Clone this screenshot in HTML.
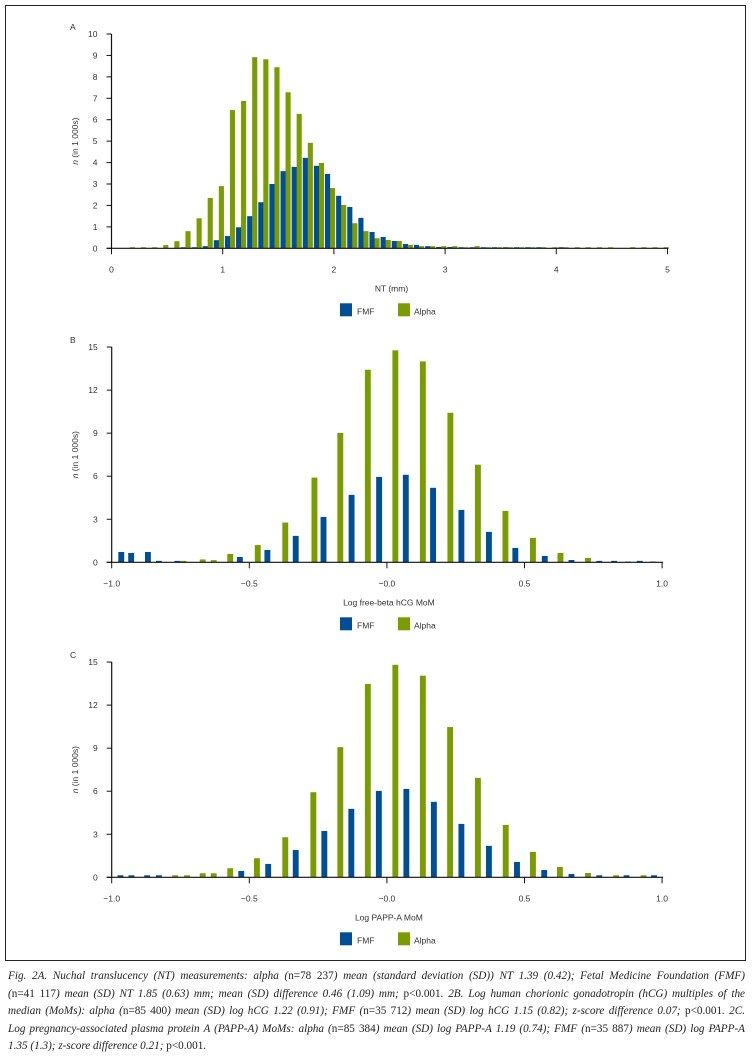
<!DOCTYPE html>
<html><head><meta charset="utf-8"><style>
html,body{margin:0;padding:0;background:#fff;}
body{width:753px;height:1063px;position:relative;overflow:hidden;font-family:"Liberation Sans",sans-serif;}
#frame{position:absolute;left:5px;top:5px;width:741px;height:956px;border:1.3px solid #222;box-sizing:border-box;}
svg{position:absolute;left:0;top:0;}
#caption{position:absolute;left:8px;top:968px;width:737px;font-family:"Liberation Serif",serif;font-style:italic;font-size:11.2px;line-height:17.5px;color:#222;}
#caption div{text-align:justify;text-align-last:justify;white-space:nowrap;}
#caption div.last{text-align-last:left;}
#caption .u{font-style:normal;}
</style></head><body>
<div id="frame"></div>
<svg id="chart" width="753" height="1063"></svg>
<div id="caption">
<div>Fig. 2A. Nuchal translucency (NT) measurements: alpha (<span class="u">n=78 237</span>) mean (standard deviation (SD)) NT 1.39 (0.42); Fetal Medicine Foundation (FMF)</div>
<div>(<span class="u">n=41 117</span>) mean (SD) NT 1.85 (0.63) mm; mean (SD) difference 0.46 (1.09) mm; <span class="u">p&lt;0.001</span>. 2B. Log human chorionic gonadotropin (hCG) multiples of the</div>
<div>median (MoMs): alpha (<span class="u">n=85 400</span>) mean (SD) log hCG 1.22 (0.91); FMF (<span class="u">n=35 712</span>) mean (SD) log hCG 1.15 (0.82); z-score difference 0.07; <span class="u">p&lt;0.001</span>. 2C.</div>
<div>Log pregnancy-associated plasma protein A (PAPP-A) MoMs: alpha (<span class="u">n=85 384</span>) mean (SD) log PAPP-A 1.19 (0.74); FMF (<span class="u">n=35 887</span>) mean (SD) log PAPP-A</div>
<div class="last">1.35 (1.3); z-score difference 0.21; <span class="u">p&lt;0.001</span>.</div>
</div>
<script>
// ---- Chart A data (NT, slots of 0.1 mm) ----
const aGreen = [0,.05,.05,.05,.15,.33,.8,1.4,2.35,2.9,6.45,6.88,8.92,8.82,8.45,7.28,6.27,4.92,3.98,2.81,2.02,1.17,.8,.47,.39,.34,.16,.1,.1,.1,.1,.05,.1,.05,.05,.05,.05,.05,.05,.05,.05,.05,.05,.05,.05,0,.05,.05,.05,.05];
const aBlue = [0,0,0,0,0,0,.05,.05,.1,.38,.57,.98,1.5,2.15,3.0,3.6,3.8,4.22,3.85,3.47,2.45,1.93,1.42,.76,.53,.34,.2,.16,.1,.06,.06,.05,.05,.05,.05,.05,.05,.05,.05,0,.05,0,0,0,0,0,0,0,0,0];
const aYTicks = [0,1,2,3,4,5,6,7,8,9,10];
const aXTicks = [0,1,2,3,4,5];
// ---- Chart B data (free-beta hCG) ----
const bGreenX = [-0.75,-0.68,-0.64,-0.58,-0.48,-0.38,-0.274,-0.18,-0.08,0.02,0.12,0.22,0.32,0.42,0.52,0.62,0.72];
const bGreenV = [0.1,0.2,0.15,0.58,1.2,2.77,5.9,9.02,13.42,14.77,14.0,10.42,6.8,3.58,1.7,0.65,0.3];
const bBlueX = [-0.976,-0.94,-0.879,-0.839,-0.772,-0.545,-0.445,-0.342,-0.241,-0.139,-0.039,0.058,0.157,0.26,0.36,0.456,0.563,0.66,0.761,0.815,0.865,0.908,0.957];
const bBlueV = [0.72,0.65,0.72,0.1,0.1,0.37,0.86,1.84,3.16,4.7,5.95,6.1,5.19,3.65,2.12,1.0,0.44,0.16,0.1,0.1,0.05,0.1,0.05];
// ---- Chart C data (PAPP-A) ----
const cGreenX = [-0.78,-0.737,-0.68,-0.64,-0.58,-0.483,-0.38,-0.278,-0.18,-0.08,0.02,0.12,0.219,0.32,0.421,0.52,0.618,0.72,0.822,0.922];
const cGreenV = [0.14,0.14,0.28,0.28,0.63,1.33,2.79,5.93,9.07,13.47,14.81,14.05,10.47,6.93,3.65,1.77,0.72,0.3,0.14,0.14];
const cBlueX = [-0.979,-0.939,-0.882,-0.839,-0.54,-0.442,-0.342,-0.238,-0.14,-0.04,0.06,0.16,0.26,0.36,0.462,0.561,0.66,0.761,0.86,0.96];
const cBlueV = [0.14,0.14,0.14,0.14,0.44,0.93,1.9,3.23,4.77,6.02,6.16,5.26,3.72,2.19,1.07,0.51,0.23,0.14,0.14,0.14];
const logYTicks = [0,3,6,9,12,15];
const logXTicks = [-1.0,-0.5,0.0,0.5,1.0];
const logXLabels = ["\u22121.0","\u22120.5","\u22120.0","0.5","1.0"];

const BLUE = "#004f95", GREEN = "#7a9c00", TXT = "#333";
const NS = "http://www.w3.org/2000/svg";
const svg = document.getElementById('chart');
function mk(tag, attrs, parent){
  const e = document.createElementNS(NS, tag);
  for (const k in attrs) e.setAttribute(k, attrs[k]);
  (parent||svg).appendChild(e);
  return e;
}
function txt(x,y,s,anchor,size,parent,italic){
  const t = mk('text',{x:x,y:y,'text-anchor':anchor||'middle','font-size':size||9,fill:TXT,'font-family':'Liberation Sans, sans-serif'},parent);
  if (italic) t.setAttribute('font-style','italic');
  t.textContent = s;
  return t;
}
function axes(g, p){
  const ax = mk('line',{x1:p.x0,y1:p.y0,x2:p.x0,y2:p.yTop,stroke:'#111','stroke-width':1.2},g);
  
  
  const bx = mk('line',{x1:p.x0-5,y1:p.y0,x2:p.x1+1,y2:p.y0,stroke:'#111','stroke-width':1.2},g);
  
  
  p.yTicks.forEach(v=>{
    const y = p.ys(v);
    mk('line',{x1:p.x0-5,y1:y,x2:p.x0,y2:y,stroke:'#111','stroke-width':1},g);
    const t = txt(p.x0-14,y+3,String(v),'end',8.5,g);
    
    
  });
  p.xTicks.forEach((v,i)=>{
    const x = p.xs(v);
    mk('line',{x1:x,y1:p.y0,x2:x,y2:p.y0+6,stroke:'#111','stroke-width':1},g);
    const t = txt(x,p.y0+24,p.xLabels[i],'middle',8.5,g);
    
    
  });
  const xt = txt((p.x0+p.x1)/2+2,p.y0+43,p.xTitle,'middle',8.5,g);
  
  
  const cy = (p.y0+p.yTop)/2;
  const yt = mk('text',{x:0,y:0,'text-anchor':'middle','font-size':8.5,fill:TXT,'font-family':'Liberation Sans, sans-serif',transform:`translate(78,${cy}) rotate(-90)`},g);
  
  
  const it = mk('tspan',{'font-style':'italic'},yt); it.textContent='n';
  const rt = mk('tspan',{},yt); rt.textContent=' (in 1 000s)';
  const pl = txt(70,p.yTop-4,p.label,'start',8.5,g);
  
  
  // legend
  const ly = p.y0+55;
  const lg = mk('g',{},g);
  
  
  const e1 = mk('rect',{x:340,y:ly,width:12,height:13,fill:BLUE},lg);
  
  
  const t1 = txt(357,ly+11,'FMF','start',8.5,lg);
  
  
  const e2 = mk('rect',{x:398,y:ly,width:12,height:13,fill:GREEN},lg);
  
  
  const t2 = txt(414,ly+11,'Alpha','start',8.5,lg);
  
  
}
function bar(g,x,w,y0,y1,color,name){
  const r = mk('rect',{x:x,y:Math.min(y0,y1),width:w,height:Math.abs(y0-y1),fill:color},g);
  
  
}

// Chart A
(function(){
  const g = mk('g',{});  
  const xs = v=>111.5+v*111.2, ys = v=>248.3-v*21.43;
  aGreen.forEach((v,k)=>{ if(v>0) bar(g,xs(0.1*k+0.065),0.046*111.2,ys(0),ys(v),GREEN,'bar-alpha'); });
  aBlue.forEach((v,k)=>{ if(v>0) bar(g,xs(0.1*k+0.02),0.046*111.2,ys(0),ys(v),BLUE,'bar-fmf'); });
  axes(g,{x0:111.5,x1:xs(5),y0:ys(0),yTop:ys(10),xs:xs,ys:ys,yTicks:aYTicks,xTicks:aXTicks,xLabels:aXTicks.map(String),xTitle:'NT (mm)',label:'A'});
})();
function logChart(name,label,y0,xTitle,gx,gv,bx,bv){
  const g = mk('g',{});  
  const xs = v=>111.7+(v+1)*275.2, ys = v=>y0-v*14.35;
  const w = 0.0214*275.2;
  gx.forEach((x,i)=>bar(g,xs(x),w,ys(0),ys(gv[i]),GREEN,'bar-alpha'));
  bx.forEach((x,i)=>bar(g,xs(x),w,ys(0),ys(bv[i]),BLUE,'bar-fmf'));
  axes(g,{x0:111.7,x1:xs(1),y0:ys(0),yTop:ys(15),xs:xs,ys:ys,yTicks:logYTicks,xTicks:logXTicks,xLabels:logXLabels,xTitle:xTitle,label:label});
}
logChart('chart-b-hcg','B',562.3,'Log free-beta hCG MoM',bGreenX,bGreenV,bBlueX,bBlueV);
logChart('chart-c-pappa','C',877.3,'Log PAPP-A MoM',cGreenX,cGreenV,cBlueX,cBlueV);
</script>
</body></html>
